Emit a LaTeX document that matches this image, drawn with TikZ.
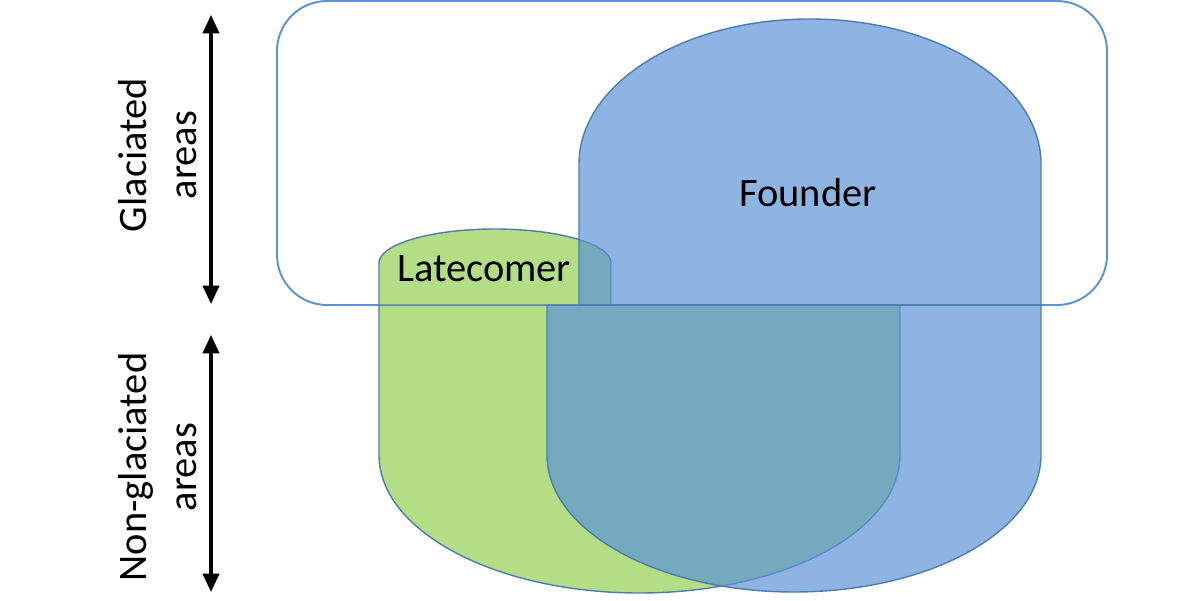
\documentclass[tikz,border=0pt]{standalone}
\usepackage{fontspec}
\setmainfont{Carlito}
\usepackage{xcolor}
\usetikzlibrary{arrows.meta}
\definecolor{IceLine}{HTML}{5B93D3}
\definecolor{ShapeLine}{HTML}{4F7CB0}
\definecolor{LateGreen}{HTML}{B3DE86}
\definecolor{FoundBlue}{HTML}{5C94D6}

\begin{document}
\begin{tikzpicture}[
	x=0.01cm, y=0.01cm, % one unit is one pixel of the 1200x600 layout
	% Style for the glaciated frame
	ice box/.style={
		draw=IceLine,
		line width=0.55pt,
		rounded corners=0.5cm
	},
	% Style for the green latecomer shapes
	late shape/.style={
		draw=ShapeLine,
		fill=LateGreen,
		line width=0.4pt
	},
	% Style for the blue founder shapes (see-through)
	found shape/.style={
		draw=ShapeLine,
		fill=FoundBlue,
		fill opacity=0.7,
		line width=0.4pt
	},
	% Style for the names inside the shapes
	shape label/.style={
		font=\fontsize{11.5}{14.2}\selectfont,
		text=black,
		anchor=base,
		inner sep=0pt
	},
	% Style for the rotated labels on the left
	side label/.style={
		font=\fontsize{11.5}{14.2}\selectfont,
		rotate=90,
		align=center,
		inner sep=0pt
	},
	% Style for the double arrows
	range arrow/.style={
		line width=0.9pt,
		{Triangle[width=4.6pt,length=5.2pt]}-{Triangle[width=4.6pt,length=5.2pt]}
	}
	]
	
	\useasboundingbox (0,0) rectangle (1200,600);
	
	% 1. Glaciated frame
	\draw[ice box] (277,295) rectangle (1107,599);
	
	% 2. Latecomer (green)
	\draw[late shape] (379,295) -- (379,145)
		arc[start angle=180, end angle=360, x radius=260.5, y radius=138] -- (900,295) -- cycle;
	\draw[late shape] (379,295) -- (379,337)
		arc[start angle=180, end angle=0, x radius=116, y radius=34] -- (611,295) -- cycle;
	
	% 3. Founder (blue)
	\draw[found shape] (579,295) -- (579,436)
		arc[start angle=180, end angle=0, x radius=231, y radius=145] -- (1041,295) -- cycle;
	\draw[found shape] (547,295) -- (547,145)
		arc[start angle=180, end angle=360, x radius=247, y radius=137] -- (1041,295) -- cycle;
	
	% 4. Names
	\node[shape label] (founder) at (808,393) {Founder};
	\node[shape label] (latecomer) at (484,318) {Latecomer};
	
	% 5. Left labels and arrows
	\node[side label] (glaciated) at (158,445) {Glaciated\\areas};
	\node[side label] (nonglaciated) at (158,133) {Non-glaciated\\areas};
	
	\coordinate (glacTop) at (211,585);
	\coordinate (glacBot) at (211,296);
	\coordinate (nonTop) at (211,265);
	\coordinate (nonBot) at (211,8);
	
	\draw[range arrow] (glacTop) -- (glacBot);
	\draw[range arrow] (nonTop) -- (nonBot);
	
\end{tikzpicture}
\end{document}
